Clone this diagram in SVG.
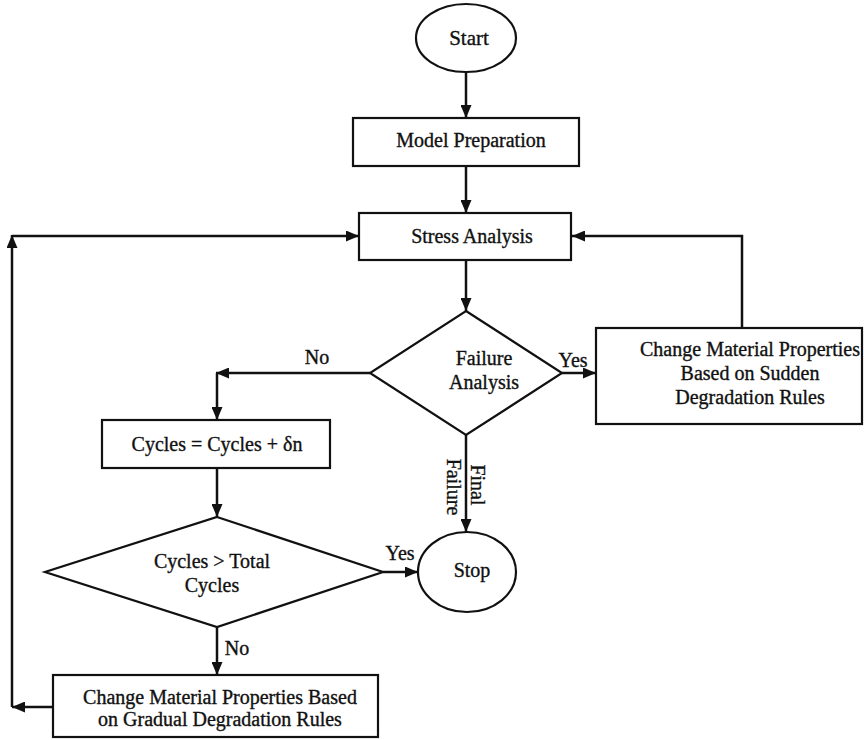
<svg xmlns="http://www.w3.org/2000/svg" width="864" height="740" viewBox="0 0 864 740">
<style>
  .shape { fill: #fff; stroke: #111; stroke-width: 2.2; }
  .line { fill: none; stroke: #111; stroke-width: 2.5; }
  text { font-family: "Liberation Serif", "Times New Roman", serif; font-size: 20px; fill: #111; stroke: #111; stroke-width: 0.35; text-anchor: middle; }
</style>
<defs>
  <marker id="arr" markerUnits="userSpaceOnUse" markerWidth="13" markerHeight="11" refX="13" refY="5.5" orient="auto">
    <path d="M0,0 L13,5.5 L0,11 z" fill="#111"/>
  </marker>
</defs>
<rect width="864" height="740" fill="#fff"/>

<g id="connectors">
  <line class="line" x1="466" y1="72" x2="466" y2="118" marker-end="url(#arr)"/>
  <line class="line" x1="466" y1="166" x2="466" y2="213" marker-end="url(#arr)"/>
  <line class="line" x1="466" y1="260" x2="466" y2="311" marker-end="url(#arr)"/>
  <line class="line" x1="562" y1="373" x2="596" y2="373" marker-end="url(#arr)"/>
  <polyline class="line" points="742,328 742,236 572,236" marker-end="url(#arr)"/>
  <line class="line" x1="370" y1="373" x2="216" y2="373" marker-end="url(#arr)"/>
  <line class="line" x1="217" y1="373" x2="217" y2="420" marker-end="url(#arr)"/>
  <line class="line" x1="217" y1="468" x2="217" y2="517" marker-end="url(#arr)"/>
  <line class="line" x1="466" y1="435" x2="466" y2="532" marker-end="url(#arr)"/>
  <line class="line" x1="383" y1="572" x2="418" y2="572" marker-end="url(#arr)"/>
  <line class="line" x1="217" y1="627" x2="217" y2="675" marker-end="url(#arr)"/>
  <line class="line" x1="53" y1="707" x2="12" y2="707" marker-end="url(#arr)"/>
  <line class="line" x1="12" y1="707" x2="12" y2="235" marker-end="url(#arr)"/>
  <line class="line" x1="12" y1="236" x2="359" y2="236" marker-end="url(#arr)"/>
  <text x="573" y="367">Yes</text>
  <text x="317" y="364">No</text>
  <text x="400" y="560">Yes</text>
  <text x="237" y="655">No</text>
  <text transform="translate(471,485) rotate(90)">Final</text>
  <text transform="translate(447,487) rotate(90)">Failure</text>
</g>

<g id="start">
  <ellipse class="shape" cx="466" cy="38" rx="50" ry="34"/>
  <text x="469" y="45" style="font-size:21px">Start</text>
</g>
<g id="model-preparation">
  <rect class="shape" x="353" y="118" width="226" height="48"/>
  <text x="471" y="147">Model Preparation</text>
</g>
<g id="stress-analysis">
  <rect class="shape" x="359" y="213" width="212" height="47"/>
  <text x="472" y="243">Stress Analysis</text>
</g>
<g id="failure-analysis">
  <polygon class="shape" points="466,311 562,373 466,435 370,373"/>
  <text x="484" y="365">Failure</text>
  <text x="484" y="389">Analysis</text>
</g>
<g id="sudden-degradation">
  <rect class="shape" x="596" y="328" width="266" height="96"/>
  <text x="750" y="356">Change Material Properties</text>
  <text x="750" y="380">Based on Sudden</text>
  <text x="750" y="404">Degradation Rules</text>
</g>
<g id="cycles-update">
  <rect class="shape" x="102" y="420" width="228" height="48"/>
  <text x="217" y="451">Cycles = Cycles + δn</text>
</g>
<g id="cycles-check">
  <polygon class="shape" points="217,517 383,572 217,627 45,572"/>
  <text x="212" y="568">Cycles &gt; Total</text>
  <text x="212" y="592">Cycles</text>
</g>
<g id="stop">
  <ellipse class="shape" cx="467" cy="572" rx="49" ry="40"/>
  <text x="472" y="577">Stop</text>
</g>
<g id="gradual-degradation">
  <rect class="shape" x="53" y="675" width="325" height="62"/>
  <text x="220" y="704">Change Material Properties Based</text>
  <text x="220" y="726">on Gradual Degradation Rules</text>
</g>
</svg>
